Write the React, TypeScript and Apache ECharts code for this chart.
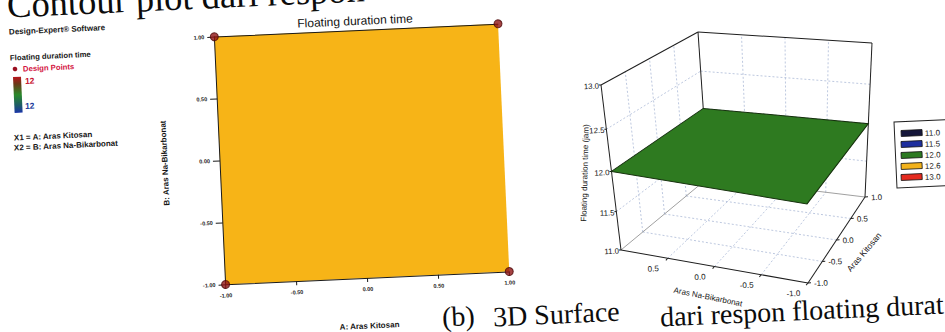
import React, { useEffect, useRef } from 'react';
import * as echarts from 'echarts';

// ---------------- data ----------------
const contourTitle = 'Floating duration time';
const xAxisName = 'A: Aras Kitosan';
const yAxisName = 'B: Aras Na-Bikarbonat';
const codedMin = -1;
const codedMax = 1;
const tickStep = 0.5;
const designPoints: [number, number][] = [[-1, -1], [1, -1], [-1, 1], [1, 1]];
const colourBarLabels = ['12', '12'];
const infoLines = ['X1 = A: Aras Kitosan', 'X2 = B: Aras Na-Bikarbonat'];

const surfaceU = [1, 1, -1, -1]; // Aras Na-Bikarbonat
const surfaceV = [-1, 1, 1, -1]; // Aras Kitosan
const surfaceZ = [12, 12, 12, 12]; // Floating duration time (jam)
const zMin = 11;
const zMax = 13;
const zTicks = [11, 11.5, 12, 12.5, 13];
const uTickLabels = [0.5, 0, -0.5, -1];
const vTicks = [-1, -0.5, 0, 0.5, 1];
const wallSteps = [-0.5, 0, 0.5];
const zGridSteps = [11.5, 12, 12.5];
const legendLevels = [11.0, 11.5, 12.0, 12.6, 13.0];
const legendColors = ['#15163a', '#1e2f9e', '#2c7a22', '#f2b21c', '#e42a1e'];

// ---------------- layout ----------------
const W = 945;
const H = 332;
const ROT = 2.6; // page tilt in degrees
const OFF = 40;
const CX = W / 2;
const CY = H / 2;
const cosR = Math.cos((ROT * Math.PI) / 180);
const sinR = Math.sin((ROT * Math.PI) / 180);
const FONT = '"Liberation Sans", Arial, sans-serif';
const SERIF = '"Liberation Serif", "Times New Roman", serif';
const CONTOUR_FILL = '#F7B417';
const SURFACE_FILL = '#2e7a20';

// page (photo) coordinate -> chart coordinate in the rotated canvas
function pg(x: number, y: number): [number, number] {
  const dx = x - CX;
  const dy = y - CY;
  return [CX + dx * cosR - dy * sinR + OFF, CY + dx * sinR + dy * cosR + OFF];
}

// 3D box corners in the photo (u: Na-Bikarbonat, v: Kitosan)
const BOX = {
  A: [621, 250], // u=1, v=-1, bottom
  B: [808, 283], // u=-1, v=-1
  C: [865, 197], // u=-1, v=1
  D: [708, 178], // u=1, v=1
  A2: [601, 85],
  B2: [806, 117],
  C2: [872, 43],
  D2: [698, 32],
};
const PERSP = -0.09;

function bil(P: number[], Q: number[], R: number[], S: number[], s: number, t: number) {
  return [
    P[0] * (1 - s) * (1 - t) + Q[0] * s * (1 - t) + R[0] * s * t + S[0] * (1 - s) * t,
    P[1] * (1 - s) * (1 - t) + Q[1] * s * (1 - t) + R[1] * s * t + S[1] * (1 - s) * t,
  ];
}
function proj(u: number, v: number, z: number): [number, number] {
  const s = (1 - u) / 2;
  const t = (v + 1) / 2;
  const w0 = (z - zMin) / (zMax - zMin);
  const w = (w0 * (1 + PERSP)) / (1 + PERSP * w0);
  const lo = bil(BOX.A, BOX.B, BOX.C, BOX.D, s, t);
  const hi = bil(BOX.A2, BOX.B2, BOX.C2, BOX.D2, s, t);
  return pg(lo[0] * (1 - w) + hi[0] * w, lo[1] * (1 - w) + hi[1] * w);
}

function txt(px: number, py: number, text: string, o: any = {}) {
  const [x, y] = pg(px, py);
  const align = o.align || 'left';
  const va = o.va || 'middle';
  return {
    type: 'text',
    x,
    y,
    rotation: o.rot || 0,
    z: o.z ?? 20,
    silent: true,
    style: {
      text,
      fill: o.color || '#161616',
      fontSize: o.size || 8,
      fontFamily: o.family || FONT,
      fontWeight: o.weight || 'normal',
      align,
      verticalAlign: va,
      textAlign: align,
      textVerticalAlign: va,
    },
  };
}
function seg(p: [number, number], q: [number, number], stroke: string, width: number, dash?: number[], z = 12) {
  return {
    type: 'line',
    z,
    silent: true,
    shape: { x1: p[0], y1: p[1], x2: q[0], y2: q[1] },
    style: { stroke, lineWidth: width, lineDash: dash || null },
  };
}

function buildGraphics() {
  const els: any[] = [];
  // ---- page text of the scanned document ----
  els.push(txt(7, 5, 'Contour plot dari respon', { size: 36.5, family: SERIF, color: '#0c0c0c', z: 1 }));
  els.push(txt(442, 317, '(b)', { size: 28, family: SERIF, color: '#0c0c0c', z: 1 }));
  els.push(txt(493, 317, '3D Surface', { size: 28, family: SERIF, color: '#0c0c0c', z: 1 }));
  els.push(txt(660, 317, 'dari respon floating durat', { size: 28, family: SERIF, color: '#0c0c0c', z: 1 }));

  // ---- Design-Expert side info ----
  els.push(txt(9, 32, 'Design-Expert\u00ae Software', { size: 8, weight: 'bold' }));
  els.push(txt(10, 58, contourTitle, { size: 7.7, weight: 'bold' }));
  const [dx, dy] = pg(15, 69);
  els.push({ type: 'circle', z: 20, silent: true, shape: { cx: dx, cy: dy, r: 2.3 }, style: { fill: '#9a1020' } });
  els.push(txt(23, 69, 'Design Points', { size: 7.7, weight: 'bold', color: '#d3123e' }));
  const [bx, by] = pg(13, 77);
  els.push({
    type: 'rect',
    z: 20,
    silent: true,
    x: bx,
    y: by,
    shape: { x: 0, y: 0, width: 8, height: 36 },
    style: {
      fill: new echarts.graphic.LinearGradient(0, 0, 0, 1, [
        { offset: 0, color: '#b8141c' },
        { offset: 0.2, color: '#6a3a18' },
        { offset: 0.5, color: '#2a8a2a' },
        { offset: 0.8, color: '#1d5a6a' },
        { offset: 1, color: '#1a34a8' },
      ]),
    },
  });
  els.push(txt(25, 81, colourBarLabels[0], { size: 8.5, weight: 'bold', color: '#c8102e' }));
  els.push(txt(25, 106, colourBarLabels[1], { size: 8.5, weight: 'bold', color: '#1a3a9a' }));
  els.push(txt(14, 138, infoLines[0], { size: 8, weight: 'bold' }));
  els.push(txt(14, 148, infoLines[1], { size: 8, weight: 'bold' }));

  // contour plot title
  els.push(txt(355, 21, contourTitle, { size: 12, align: 'center', color: '#111' }));

  // ---- 3D surface plot ----
  const grid = '#aebbd8';
  const dash = [2, 2];
  for (const v of wallSteps) {
    els.push(seg(proj(1, v, zMin), proj(1, v, zMax), grid, 0.8, dash, 11));
    els.push(seg(proj(1, v, zMin), proj(-1, v, zMin), grid, 0.8, dash, 11));
  }
  for (const u of wallSteps) {
    els.push(seg(proj(u, 1, zMin), proj(u, 1, zMax), grid, 0.8, dash, 11));
    els.push(seg(proj(u, -1, zMin), proj(u, 1, zMin), grid, 0.8, dash, 11));
  }
  for (const z of zGridSteps) {
    els.push(seg(proj(1, -1, z), proj(1, 1, z), grid, 0.8, dash, 11));
    els.push(seg(proj(1, 1, z), proj(-1, 1, z), grid, 0.8, dash, 11));
  }
  const edge = '#1e1e1e';
  els.push(seg(proj(1, -1, zMin), proj(1, 1, zMin), '#8a8a8a', 0.8));
  els.push(seg(proj(1, 1, zMin), proj(-1, 1, zMin), '#8a8a8a', 0.8));
  els.push(seg(proj(1, 1, zMin), proj(1, 1, zMax), edge, 1));
  els.push(seg(proj(1, -1, zMin), proj(1, -1, zMax), edge, 1));
  els.push(seg(proj(1, -1, zMax), proj(1, 1, zMax), edge, 1));
  els.push(seg(proj(1, 1, zMax), proj(-1, 1, zMax), edge, 1));
  els.push(seg(proj(-1, 1, zMax), proj(-1, 1, zMin), edge, 1));
  els.push(seg(proj(1, -1, zMin), proj(-1, -1, zMin), edge, 1));
  els.push(seg(proj(-1, -1, zMin), proj(-1, 1, zMin), edge, 1));

  // surface
  const pts = surfaceU.map((u, i) => proj(u, surfaceV[i], surfaceZ[i]));
  els.push({
    type: 'polygon',
    z: 14,
    silent: true,
    shape: { points: pts },
    style: { fill: SURFACE_FILL, stroke: '#15300c', lineWidth: 1 },
  });

  // z ticks and labels
  for (const z of zTicks) {
    const p = proj(1, -1, z);
    els.push({ type: 'line', z: 12, silent: true, shape: { x1: p[0] - 2, y1: p[1], x2: p[0], y2: p[1] }, style: { stroke: edge, lineWidth: 1 } });
    els.push({
      type: 'text', x: p[0] - 2, y: p[1] + 1, z: 20, silent: true,
      style: { text: z.toFixed(1), fontSize: 7.8, fontFamily: FONT, fill: '#161616', align: 'right', verticalAlign: 'middle', textAlign: 'right', textVerticalAlign: 'middle' },
    });
  }
  for (const u of uTickLabels) {
    const p = proj(u, -1, zMin);
    els.push({ type: 'line', z: 12, silent: true, shape: { x1: p[0], y1: p[1], x2: p[0] - 2, y2: p[1] + 2 }, style: { stroke: edge, lineWidth: 1 } });
    els.push({
      type: 'text', x: p[0] - 15, y: p[1] + 10, z: 20, silent: true,
      style: { text: u.toFixed(1), fontSize: 8, fontFamily: FONT, fill: '#161616', align: 'center', verticalAlign: 'middle', textAlign: 'center', textVerticalAlign: 'middle' },
    });
  }
  for (const v of vTicks) {
    const p = proj(-1, v, zMin);
    els.push({ type: 'line', z: 12, silent: true, shape: { x1: p[0], y1: p[1], x2: p[0] + 3, y2: p[1] }, style: { stroke: edge, lineWidth: 1 } });
    els.push({
      type: 'text', x: p[0] + 6, y: p[1] + 1, z: 20, silent: true,
      style: { text: v.toFixed(1), fontSize: 8, fontFamily: FONT, fill: '#161616', align: 'left', verticalAlign: 'middle', textAlign: 'left', textVerticalAlign: 'middle' },
    });
  }
  const deg = Math.PI / 180;
  els.push(txt(585, 173, 'Floating duration time (jam)', { size: 8, align: 'center', rot: 86 * deg }));
  els.push(txt(708, 297, 'Aras Na-Bikarbonat', { size: 8, align: 'center', rot: -14 * deg }));
  els.push(txt(864, 252, 'Aras Kitosan', { size: 8.5, align: 'center', rot: 47 * deg }));

  // legend box
  const [lx, ly] = pg(894, 122);
  els.push({
    type: 'rect', z: 18, silent: true, x: lx, y: ly,
    shape: { x: 0, y: 0, width: 62, height: 66 },
    style: { fill: '#ffffff', stroke: '#222', lineWidth: 1 },
  });
  legendLevels.forEach((lv, i) => {
    const [sx, sy] = pg(901, 130.5 + i * 11);
    els.push({
      type: 'rect', z: 19, silent: true, x: sx, y: sy,
      shape: { x: 0, y: 0, width: 21, height: 6 },
      style: { fill: legendColors[i], stroke: '#111', lineWidth: 0.8 },
    });
    els.push(txt(925, 133.5 + i * 11, lv.toFixed(1), { size: 8 }));
  });
  return els;
}

export default function App() {
  const ref = useRef<HTMLDivElement>(null);
  useEffect(() => {
    if (!ref.current) return;
    const chart = echarts.init(ref.current, undefined, { renderer: 'svg' });
    const [gL, gT] = pg(214.3, 36.7);
    const axisText = { fontSize: 5.5, fontWeight: 'bold', color: '#222', fontFamily: FONT };
    const nameText = { fontSize: 8, fontWeight: 'bold', color: '#161616', fontFamily: FONT };
    const line = { show: true, onZero: false, lineStyle: { color: '#1a1a1a', width: 1 } };
    const option: any = {
      animation: false,
      backgroundColor: 'transparent',
      grid: { left: gL, top: gT, width: 284, height: 248, containLabel: false },
      xAxis: [
        {
          type: 'value', min: codedMin, max: codedMax, interval: tickStep, position: 'bottom', z: 5,
          name: xAxisName, nameLocation: 'middle', nameGap: 44, nameTextStyle: nameText,
          axisLine: line,
          axisTick: { show: true, length: 4, lineStyle: { color: '#1a1a1a' } },
          axisLabel: { formatter: (v: number) => v.toFixed(2), margin: 8, ...axisText },
          splitLine: { show: false },
        },
        {
          type: 'value', min: codedMin, max: codedMax, position: 'top', z: 5,
          axisLine: line,
          axisTick: { show: false }, axisLabel: { show: false }, splitLine: { show: false },
        },
      ],
      yAxis: {
        type: 'value', min: codedMin, max: codedMax, interval: tickStep, z: 5,
        name: yAxisName, nameLocation: 'middle', nameGap: 51, nameTextStyle: nameText,
        axisLine: line,
        axisTick: { show: true, length: 7, lineStyle: { color: '#1a1a1a' } },
        axisLabel: { formatter: (v: number) => v.toFixed(2), margin: 10, ...axisText },
        splitLine: { show: false },
      },
      series: [
        {
          type: 'scatter', xAxisIndex: 0, yAxisIndex: 0, data: designPoints, symbol: 'circle', symbolSize: 8,
          clip: false, z: 6,
          itemStyle: { color: '#8e1414', borderColor: '#4a0606', borderWidth: 1 },
          markArea: {
            silent: true,
            itemStyle: { color: CONTOUR_FILL, opacity: 1 },
            data: [[{ coord: [codedMin, codedMin] }, { coord: [codedMax, codedMax] }]],
          },
        },
      ],
      graphic: { elements: buildGraphics() },
    };
    chart.setOption(option);
    return () => chart.dispose();
  }, []);
  return (
    <div style={{ position: 'fixed', left: 0, top: 0, width: W, height: H, overflow: 'hidden', background: '#fff' }}>
      <div
        ref={ref}
        style={{
          position: 'absolute',
          left: -OFF,
          top: -OFF,
          width: W + 2 * OFF,
          height: H + 2 * OFF,
          transform: `rotate(${-ROT}deg)`,
          transformOrigin: `${CX + OFF}px ${CY + OFF}px`,
        }}
      />
    </div>
  );
}
